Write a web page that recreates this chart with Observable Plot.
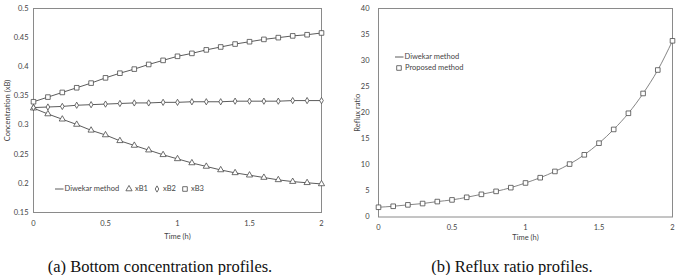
<!DOCTYPE html>
<html>
<head>
<meta charset="utf-8">
<script src="https://cdn.jsdelivr.net/npm/d3@7"></script>
<script src="https://cdn.jsdelivr.net/npm/@observablehq/plot@0.6"></script>
<style>
  body { margin: 0; background: #fff; }
  #wrap { position: relative; width: 678px; height: 275px; overflow: hidden; font-family: Lato, "Open Sans", sans-serif; }
  .panel { position: absolute; top: 0; }
  .caption { position: absolute; top: 257px; line-height: 19px; font-family: "Liberation Serif", "Times New Roman", serif; font-size: 16.5px; color: #111; text-align: center; white-space: nowrap; }
  .key { position: absolute; display: flex; align-items: center; height: 10px; font-size: 7.5px; line-height: 10px; color: #444; white-space: nowrap; }
  .key svg { display: block; overflow: visible; }
</style>
</head>
<body>
<div id="wrap">
  <div id="panelA" class="panel" style="left:0"></div>
  <div id="panelB" class="panel" style="left:340px"></div>
  <div class="caption" style="left:0;width:320px">(a) Bottom concentration profiles.</div>
  <div class="caption" style="left:340px;width:344px">(b) Reflux ratio profiles.</div>
</div>
<script>
// Batch time (h)
const time = [0, 0.1, 0.2, 0.3, 0.4, 0.5, 0.6, 0.7, 0.8, 0.9, 1.0, 1.1, 1.2, 1.3, 1.4, 1.5, 1.6, 1.7, 1.8, 1.9, 2.0];

// Bottom concentrations of the three components
const xB1 = [0.329, 0.319, 0.310, 0.301, 0.291, 0.283, 0.273, 0.265, 0.257, 0.249, 0.242, 0.235, 0.229, 0.223, 0.218, 0.214, 0.210, 0.206, 0.203, 0.201, 0.199];
const xB2 = [0.330, 0.331, 0.332, 0.334, 0.335, 0.336, 0.337, 0.338, 0.338, 0.339, 0.339, 0.340, 0.340, 0.340, 0.341, 0.341, 0.341, 0.341, 0.342, 0.342, 0.342];
const xB3 = [0.340, 0.348, 0.356, 0.364, 0.372, 0.381, 0.389, 0.396, 0.404, 0.411, 0.418, 0.423, 0.429, 0.434, 0.439, 0.443, 0.447, 0.450, 0.453, 0.455, 0.458];

// Reflux ratio
const reflux = [1.87, 2.06, 2.33, 2.58, 2.96, 3.28, 3.78, 4.35, 4.92, 5.63, 6.53, 7.54, 8.74, 10.15, 11.93, 14.16, 16.8, 19.9, 23.7, 28.2, 33.8];

// Axis ticks
const xTicks = [0, 0.5, 1, 1.5, 2];
const xTickLabels = ["0", "0.5", "1", "1.5", "2"];
const yTicksA = [0.15, 0.2, 0.25, 0.3, 0.35, 0.4, 0.45, 0.5];
const yTickLabelsA = ["0.15", "0.2", "0.25", "0.3", "0.35", "0.4", "0.45", "0.5"];
const yTicksB = [0, 5, 10, 15, 20, 25, 30, 35, 40];
const yTickLabelsB = ["0", "5", "10", "15", "20", "25", "30", "35", "40"];

const seriesA = [
  {key: "xB1", values: xB1, symbol: "triangle", r: 2.3},
  {key: "xB2", values: xB2, symbol: "diamond", r: 1.9},
  {key: "xB3", values: xB3, symbol: "square", r: 2.6}
];
const rowsA = seriesA.flatMap(s => time.map((t, i) => ({t, v: s.values[i], key: s.key})));
const rowsB = time.map((t, i) => ({t, v: reflux[i]}));

const ink = "#4a4a4a";
const font = "Lato, 'Open Sans', sans-serif";
const fmt = (ticks, labels) => d => labels[ticks.indexOf(d)];

const plotA = Plot.plot({
  width: 340, height: 245,
  marginLeft: 33, marginRight: 19, marginTop: 8, marginBottom: 33,
  style: {fontFamily: font, fontSize: "7.5px", color: "#444", background: "transparent", overflow: "visible"},
  x: {domain: [0, 2], ticks: xTicks, tickFormat: fmt(xTicks, xTickLabels), tickSize: 0, tickPadding: 8,
      label: "Time (h)", labelAnchor: "center", labelOffset: 26, labelArrow: "none"},
  y: {domain: [0.15, 0.5], ticks: yTicksA, tickFormat: fmt(yTicksA, yTickLabelsA), tickSize: 0, tickPadding: 5,
      label: "Concentration (xB)", labelAnchor: "center", labelOffset: 29, labelArrow: "none"},
  marks: [
    Plot.frame({stroke: "#8a8a8a"}),
    Plot.line(rowsA, {x: "t", y: "v", z: "key", stroke: ink, strokeWidth: 0.9}),
    ...seriesA.map(s => Plot.dot(rowsA.filter(d => d.key === s.key),
      {x: "t", y: "v", symbol: () => s.symbol, r: s.r, stroke: ink, strokeWidth: 0.8, fill: "white"}))
  ]
});
document.getElementById("panelA").append(plotA);

const plotB = Plot.plot({
  width: 338, height: 245,
  marginLeft: 38, marginRight: 6, marginTop: 8, marginBottom: 28.5,
  style: {fontFamily: font, fontSize: "7.5px", color: "#444", background: "transparent", overflow: "visible"},
  x: {domain: [0, 2], ticks: xTicks, tickFormat: fmt(xTicks, xTickLabels), tickSize: 0, tickPadding: 8,
      label: "Time (h)", labelAnchor: "center", labelOffset: 23, labelArrow: "none"},
  y: {domain: [0, 40], ticks: yTicksB, tickFormat: fmt(yTicksB, yTickLabelsB), tickSize: 0, tickPadding: 9,
      label: "Reflux ratio", labelAnchor: "center", labelOffset: 24, labelArrow: "none"},
  marks: [
    Plot.frame({stroke: "#8a8a8a"}),
    Plot.line(rowsB, {x: "t", y: "v", stroke: "#777", strokeWidth: 0.9, curve: "monotone-x"}),
    Plot.dot(rowsB, {x: "t", y: "v", symbol: "square", r: 2.6, stroke: ink, strokeWidth: 0.8, fill: "white"})
  ]
});
document.getElementById("panelB").append(plotB);

// Legend keys: a swatch followed by its label
function glyph(kind, r) {
  const svg = d3.create("svg").attr("width", kind === "line" ? 9 : 8).attr("height", 8);
  if (kind === "line") {
    svg.append("line").attr("x1", 0).attr("x2", 8.5).attr("y1", 4).attr("y2", 4).attr("stroke", ink).attr("stroke-width", 0.9);
  } else {
    const type = {triangle: d3.symbolTriangle, diamond: d3.symbolDiamond, square: d3.symbolSquare}[kind];
    svg.append("path").attr("transform", "translate(4,4)")
      .attr("d", d3.symbol(type, Math.PI * r * r)())
      .attr("fill", "white").attr("stroke", ink).attr("stroke-width", 0.8);
  }
  return svg.node();
}
function key(left, top, kind, r, text, gap) {
  const row = d3.select("#wrap").append("div").attr("class", "key")
    .style("left", left + "px").style("top", top + "px");
  row.node().append(glyph(kind, r));
  row.append("span").style("margin-left", gap + "px").text(text);
}
key(55, 183.5, "line", 0, "Diwekar method", 0.5);
key(125, 183.5, "triangle", 2.3, "xB1", 2);
key(153, 183.5, "diamond", 1.9, "xB2", 2);
key(181, 183.5, "square", 2.6, "xB3", 2);

key(395, 52, "line", 0, "Diwekar method", 0.5);
key(395, 63, "square", 2.6, "Proposed method", 2);
</script>
</body>
</html>
